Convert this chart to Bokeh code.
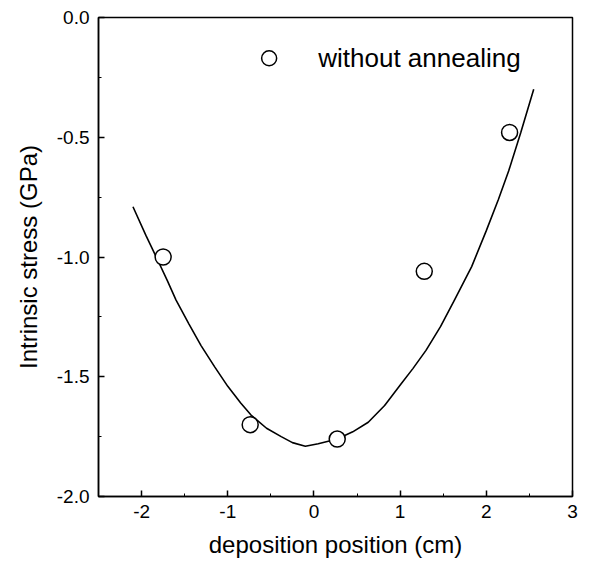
from bokeh.plotting import figure
from bokeh.models import Range1d, PrintfTickFormatter, FixedTicker
from bokeh.core.properties import value
from bokeh.embed import file_html
from bokeh.resources import INLINE

# measured data (without annealing)
pos_x = [-1.75, -0.74, 0.27, 1.28, 2.27]
stress_y = [-1.00, -1.70, -1.76, -1.06, -0.48]

# fitted curve
curve_x = [-2.10, -1.95, -1.83, -1.70, -1.60, -1.45, -1.31, -1.15, -1.00, -0.85, -0.73, -0.55,
           -0.38, -0.25, -0.10, 0.05, 0.27, 0.45, 0.63, 0.82, 1.01, 1.15, 1.30, 1.47, 1.63,
           1.83, 2.00, 2.14, 2.26, 2.40, 2.55]
curve_y = [-0.79, -0.91, -1.00, -1.10, -1.18, -1.28, -1.37, -1.46, -1.54, -1.61, -1.66, -1.715,
           -1.75, -1.775, -1.79, -1.78, -1.76, -1.73, -1.69, -1.62, -1.53, -1.465, -1.39, -1.29, -1.18,
           -1.04, -0.89, -0.76, -0.64, -0.48, -0.30]

x_ticks = [-2, -1, 0, 1, 2, 3]
y_ticks = [-2.0, -1.5, -1.0, -0.5, 0.0]
x_minor = [-2.5, -1.5, -0.5, 0.5, 1.5, 2.5]
y_minor = [-1.75, -1.25, -0.75, -0.25]

legend_label = "without annealing"

FONT = "Liberation Sans"

p = figure(width=580, height=560, output_backend="svg", toolbar_location=None,
           x_range=Range1d(-2.5, 3.0), y_range=Range1d(-2.0, 0.0),
           min_border_left=98, min_border_right=8, min_border_top=17, min_border_bottom=63)
p.grid.visible = False
p.outline_line_color = "black"
p.outline_line_width = 1.5
p.background_fill_color = "white"

for ax in (p.xaxis[0], p.yaxis[0]):
    ax.axis_line_color = "black"
    ax.axis_line_width = 1.5
    ax.major_tick_in = 6
    ax.major_tick_out = 0
    ax.minor_tick_in = 3
    ax.minor_tick_out = 0
    ax.major_tick_line_width = 1.5
    ax.major_label_text_font = FONT
    ax.major_label_text_font_size = "19px"
    ax.major_label_text_color = "black"
    ax.axis_label_text_font = FONT
    ax.axis_label_text_font_size = "24px"
    ax.axis_label_text_font_style = "normal"
    ax.axis_label_text_color = "black"

p.xaxis.ticker = FixedTicker(ticks=x_ticks, minor_ticks=x_minor)
p.yaxis.ticker = FixedTicker(ticks=y_ticks, minor_ticks=y_minor)
p.xaxis.formatter = PrintfTickFormatter(format="%d")
p.yaxis.formatter = PrintfTickFormatter(format="%.1f")
p.xaxis.major_label_standoff = 8
p.yaxis.major_label_standoff = 9
p.xaxis.axis_label = "deposition position (cm)"
p.yaxis.axis_label = "Intrinsic stress (GPa)"
p.xaxis.axis_label_standoff = 10
p.yaxis.axis_label_standoff = 12

p.line(curve_x, curve_y, line_color="black", line_width=1.6)
p.scatter(pos_x, stress_y, marker="circle", size=16, fill_color="white",
          line_color="black", line_width=1.5)

# legend entry drawn in place
p.scatter([-0.52], [-0.17], marker="circle", size=15, fill_color="white",
          line_color="black", line_width=1.5)
p.text([0.05], [-0.17], text=[legend_label], text_font=value(FONT), text_font_size="26px",
       text_baseline="middle", text_align="left", text_color="black")

open("out.html", "w").write(file_html(p, INLINE))
